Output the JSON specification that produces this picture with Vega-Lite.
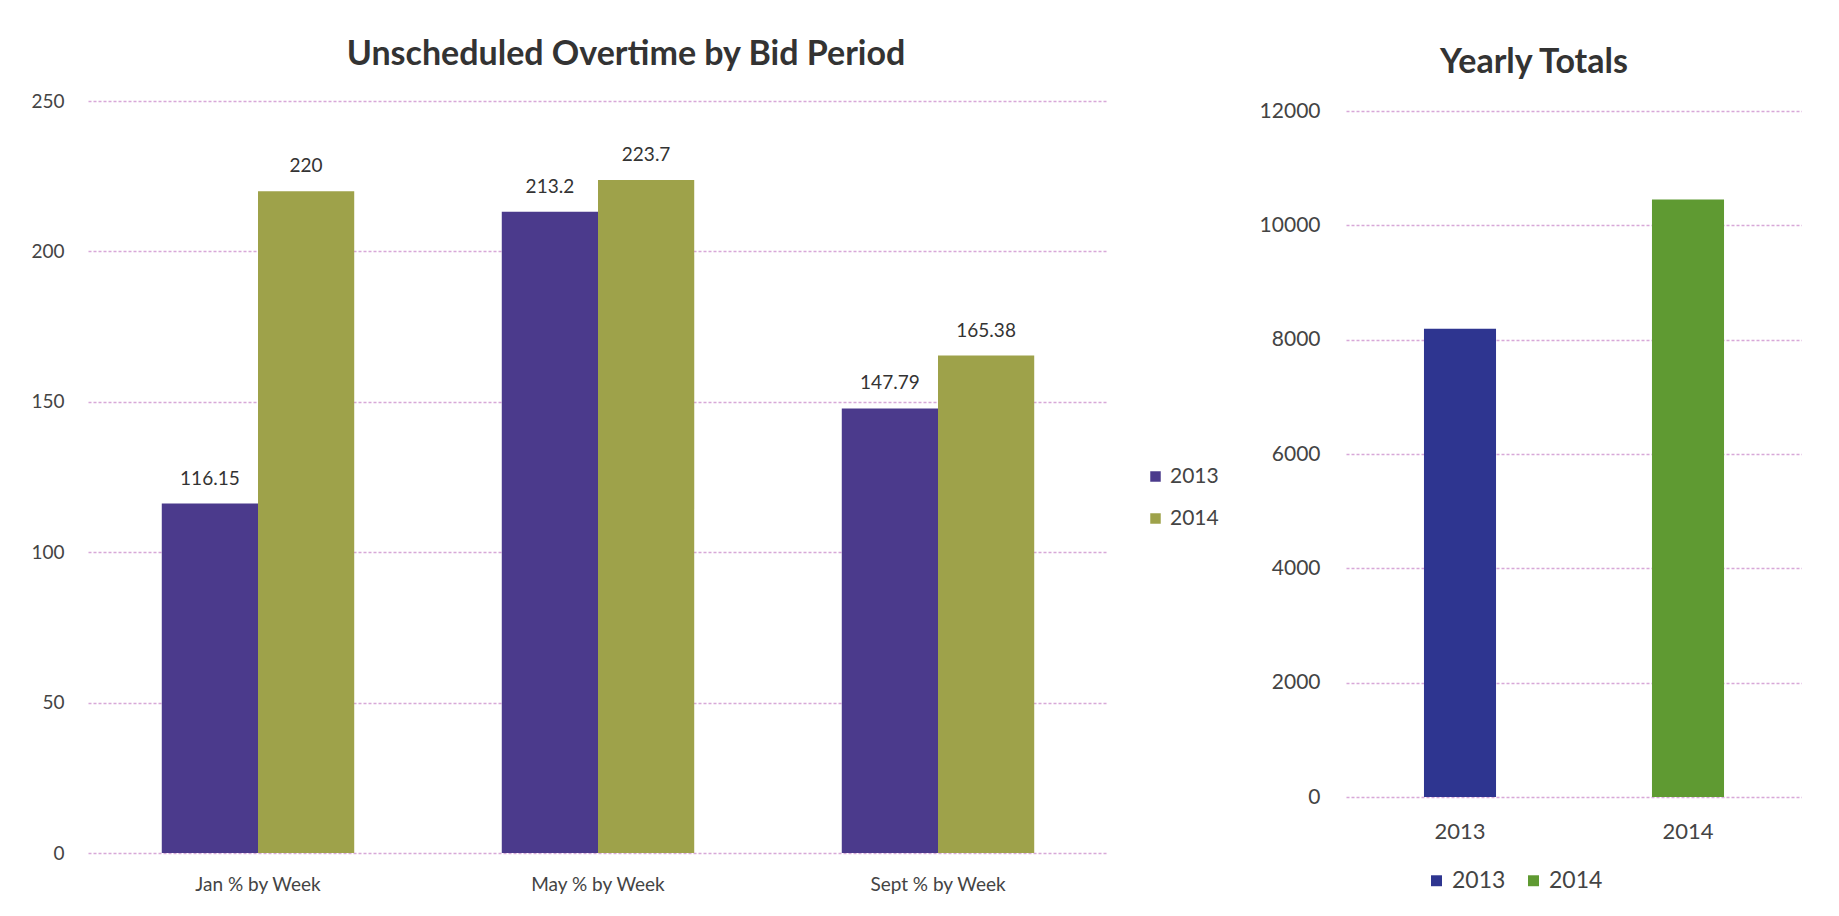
{
  "$schema": "https://vega.github.io/schema/vega-lite/v6.json",
  "background": "white",
  "padding": {"left": 30, "top": 38, "right": 0, "bottom": 0},
  "spacing": 40,
  "datasets": {
    "periods": [
      {"period": "Jan % by Week", "year": "2013", "value": 116.15},
      {"period": "Jan % by Week", "year": "2014", "value": 220},
      {"period": "May % by Week", "year": "2013", "value": 213.2},
      {"period": "May % by Week", "year": "2014", "value": 223.7},
      {"period": "Sept % by Week", "year": "2013", "value": 147.79},
      {"period": "Sept % by Week", "year": "2014", "value": 165.38}
    ],
    "yearly": [
      {"year": "2013", "total": 8190},
      {"year": "2014", "total": 10450}
    ]
  },
  "config": {
    "view": {"stroke": null},
    "font": "Lato",
    "axis": {
      "labelFont": "Lato",
      "labelColor": "#444444",
      "domain": false,
      "ticks": false,
      "gridColor": "#d8a8d8",
      "gridDash": [3, 2],
      "gridWidth": 1.5
    },
    "legend": {"labelFont": "Lato", "labelColor": "#444444"},
    "title": {"font": "Lato", "color": "#333333", "fontWeight": "bold", "anchor": "middle"}
  },
  "resolve": {"scale": {"color": "independent"}},
  "hconcat": [
    {
      "width": 1020,
      "height": 752,
      "title": {"text": "Unscheduled Overtime by Bid Period", "fontSize": 34, "offset": 20, "dx": 28},
      "data": {"name": "periods"},
      "encoding": {
        "x": {
          "field": "period",
          "type": "nominal",
          "sort": ["Jan % by Week", "May % by Week", "Sept % by Week"],
          "scale": {"paddingInner": 0.434, "paddingOuter": 0.217},
          "axis": {"title": null, "labelAngle": 0, "labelFontSize": 19, "labelPadding": 22, "grid": false}
        },
        "xOffset": {"field": "year", "type": "nominal", "sort": ["2013", "2014"]},
        "y": {
          "field": "value",
          "type": "quantitative",
          "scale": {"domain": [0, 250]},
          "axis": {"title": null, "values": [0, 50, 100, 150, 200, 250], "labelFontSize": 19, "labelPadding": 24}
        }
      },
      "layer": [
        {
          "mark": {"type": "bar"},
          "encoding": {
            "color": {
              "field": "year",
              "type": "nominal",
              "scale": {"domain": ["2013", "2014"], "range": ["#4b3a8c", "#9ea24a"]},
              "legend": {
                "title": null,
                "orient": "none",
                "legendX": 1057,
                "legendY": 365,
                "symbolType": "square",
                "symbolSize": 110,
                "symbolStrokeWidth": 0,
                "labelFontSize": 21,
                "labelOffset": 4,
                "rowPadding": 20
              }
            }
          }
        },
        {
          "mark": {"type": "text", "baseline": "bottom", "dy": -15, "fontSize": 19, "color": "#333333"},
          "encoding": {"text": {"field": "value", "type": "nominal"}}
        }
      ]
    },
    {
      "width": 456,
      "height": 696,
      "title": {"text": "Yearly Totals", "fontSize": 34, "offset": 20, "dx": -40},
      "data": {"name": "yearly"},
      "mark": {"type": "bar"},
      "encoding": {
        "x": {
          "field": "year",
          "type": "nominal",
          "scale": {"paddingInner": 0.684, "paddingOuter": 0.342},
          "axis": {"title": null, "labelAngle": 0, "labelFontSize": 22, "labelPadding": 24, "grid": false}
        },
        "y": {
          "field": "total",
          "type": "quantitative",
          "scale": {"domain": [0, 12000], "range": [696, 10]},
          "axis": {"title": null, "format": "d", "values": [0, 2000, 4000, 6000, 8000, 10000, 12000], "labelFontSize": 21, "labelPadding": 26}
        },
        "color": {
          "field": "year",
          "type": "nominal",
          "scale": {"domain": ["2013", "2014"], "range": ["#2e3590", "#5f9a32"]},
          "legend": {
            "title": null,
            "orient": "none",
            "direction": "horizontal",
            "legendX": 79,
            "legendY": 768,
            "symbolType": "square",
            "symbolSize": 120,
            "symbolStrokeWidth": 0,
            "labelFontSize": 23,
            "labelOffset": 4,
            "columnPadding": 16
          }
        }
      }
    }
  ]
}
